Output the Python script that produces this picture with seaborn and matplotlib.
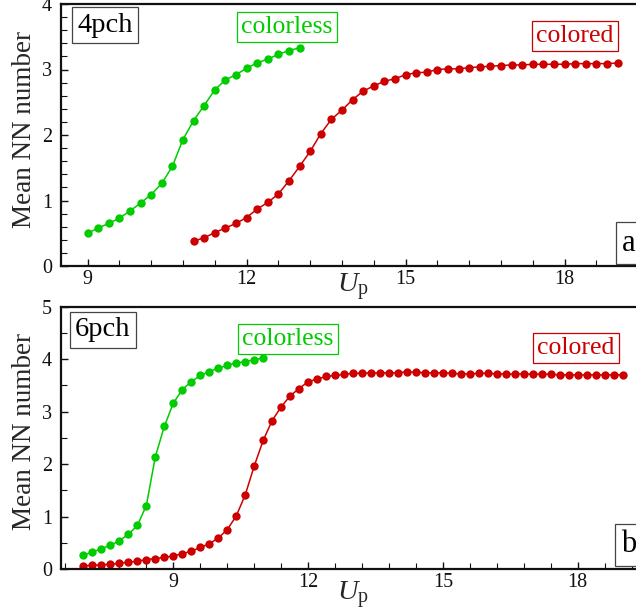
import numpy as np
import pandas as pd
import matplotlib
matplotlib.use("Agg")
import matplotlib.pyplot as plt
import seaborn as sns
from matplotlib.ticker import MultipleLocator

# ---------------- data ----------------
a_colorless_x = [9.0, 9.2, 9.4, 9.6, 9.8, 10.0, 10.2, 10.4, 10.6, 10.8, 11.0,
                 11.2, 11.4, 11.6, 11.8, 12.0, 12.2, 12.4, 12.6, 12.8, 13.0]
a_colorless_y = [0.50, 0.58, 0.65, 0.73, 0.84, 0.96, 1.09, 1.26, 1.52, 1.93, 2.22,
                 2.45, 2.69, 2.84, 2.92, 3.02, 3.10, 3.16, 3.23, 3.29, 3.33]

a_colored_x = [11.0, 11.2, 11.4, 11.6, 11.8, 12.0, 12.2, 12.4, 12.6, 12.8, 13.0,
               13.2, 13.4, 13.6, 13.8, 14.0, 14.2, 14.4, 14.6, 14.8, 15.0,
               15.2, 15.4, 15.6, 15.8, 16.0, 16.2, 16.4, 16.6, 16.8, 17.0,
               17.2, 17.4, 17.6, 17.8, 18.0, 18.2, 18.4, 18.6, 18.8, 19.0]
a_colored_y = [0.38, 0.43, 0.51, 0.58, 0.65, 0.74, 0.87, 0.97, 1.10, 1.30, 1.52,
               1.75, 2.02, 2.24, 2.38, 2.54, 2.67, 2.75, 2.82, 2.86, 2.92,
               2.95, 2.96, 3.00, 3.01, 3.01, 3.03, 3.04, 3.05, 3.06, 3.07,
               3.07, 3.08, 3.08, 3.08, 3.08, 3.09, 3.09, 3.09, 3.09, 3.10]

b_colorless_x = [7.0, 7.2, 7.4, 7.6, 7.8, 8.0, 8.2, 8.4, 8.6, 8.8, 9.0,
                 9.2, 9.4, 9.6, 9.8, 10.0, 10.2, 10.4, 10.6, 10.8, 11.0]
b_colorless_y = [0.27, 0.32, 0.39, 0.45, 0.54, 0.66, 0.83, 1.21, 2.14, 2.72, 3.16,
                 3.42, 3.57, 3.69, 3.76, 3.83, 3.88, 3.93, 3.95, 3.99, 4.02]

b_colored_x = [7.0, 7.2, 7.4, 7.6, 7.8, 8.0, 8.2, 8.4, 8.6, 8.8, 9.0,
               9.2, 9.4, 9.6, 9.8, 10.0, 10.2, 10.4, 10.6, 10.8, 11.0,
               11.2, 11.4, 11.6, 11.8, 12.0, 12.2, 12.4, 12.6, 12.8, 13.0,
               13.2, 13.4, 13.6, 13.8, 14.0, 14.2, 14.4, 14.6, 14.8, 15.0,
               15.2, 15.4, 15.6, 15.8, 16.0, 16.2, 16.4, 16.6, 16.8, 17.0,
               17.2, 17.4, 17.6, 17.8, 18.0, 18.2, 18.4, 18.6, 18.8, 19.0]
b_colored_y = [0.06, 0.07, 0.08, 0.09, 0.11, 0.13, 0.15, 0.18, 0.20, 0.22, 0.25,
               0.29, 0.34, 0.41, 0.48, 0.59, 0.75, 1.01, 1.41, 1.96, 2.45,
               2.83, 3.09, 3.30, 3.44, 3.57, 3.62, 3.67, 3.69, 3.71, 3.73,
               3.73, 3.74, 3.74, 3.74, 3.74, 3.76, 3.75, 3.74, 3.74, 3.74,
               3.73, 3.72, 3.72, 3.73, 3.73, 3.72, 3.72, 3.71, 3.72, 3.71,
               3.72, 3.71, 3.70, 3.70, 3.70, 3.70, 3.70, 3.70, 3.70, 3.70]

x_major_ticks = [9, 12, 15, 18]
a_y_ticks = [0, 1, 2, 3, 4]
b_y_ticks = [0, 1, 2, 3, 4, 5]
panel_names = ["4pch", "6pch"]
panel_letters = ["a", "b"]
series_names = ["colorless", "colored"]

GREEN = "#00cc00"
RED = "#cc0000"
SERIF = ["Liberation Serif", "DejaVu Serif"]

# ---------------- style ----------------
sns.set_theme(style="ticks")
plt.rcParams["font.family"] = SERIF
plt.rcParams["mathtext.fontset"] = "custom"
plt.rcParams["mathtext.rm"] = "Liberation Serif"
plt.rcParams["mathtext.it"] = "Liberation Serif:italic"

W, H = 636, 613
fig = plt.figure(figsize=(W / 100, H / 100), dpi=100)

def fx(px):
    return px / W

def fy(py):
    return 1 - py / H

ax1 = fig.add_axes([fx(61), fy(266), 588.5 / W, 262 / H])
ax2 = fig.add_axes([fx(61), fy(569), 588.5 / W, 262.3 / H])

def draw(ax, xs, ys, color):
    df = pd.DataFrame({"U": xs, "N": ys})
    sns.lineplot(data=df, x="U", y="N", ax=ax, color=color, linewidth=1.1,
                 marker="o", markersize=6, markeredgewidth=0, legend=False)

draw(ax1, a_colorless_x, a_colorless_y, GREEN)
draw(ax1, a_colored_x, a_colored_y, RED)
draw(ax2, b_colorless_x, b_colorless_y, GREEN)
draw(ax2, b_colored_x, b_colored_y, RED)

ax1.set_xlim(8.5, 19.6)
ax1.set_ylim(0, 4)
ax2.set_xlim(6.5, 19.6)
ax2.set_ylim(0, 5)

for ax, yt, ymin in [(ax1, a_y_ticks, 0.2), (ax2, b_y_ticks, 0.5)]:
    ax.set_xticks(x_major_ticks)
    ax.set_yticks(yt)
    ax.yaxis.set_minor_locator(MultipleLocator(ymin))
    ax.tick_params(which="major", direction="in", length=5, width=1,
                   labelsize=14.5, colors="#111111")
    ax.tick_params(axis="y", which="major", pad=6.5)
    ax.tick_params(axis="x", which="major", pad=3)
    ax.tick_params(which="minor", direction="in", length=4, width=0.8,
                   colors="#111111")
    ax.set_xlabel("")
    ax.set_ylabel("")
    for s in ax.spines.values():
        s.set_linewidth(1.6)
        s.set_color("#111111")
        s.set_visible(True)

# minor x ticks sit on the 9 + 0.6k grid
for ax in (ax1, ax2):
    lo, hi = ax.get_xlim()
    ks = np.arange(np.ceil((lo - 9) / 0.6), np.floor((hi - 9) / 0.6) + 1)
    ax.set_xticks(9 + 0.6 * ks, minor=True)

# y labels
for yc in (129, 432):
    fig.text(fx(25), fy(yc), "Mean NN number", rotation=90, ha="center",
             va="center", fontsize=19.5, family=SERIF)

# x labels
for yc in (287, 595):
    fig.text(fx(353), fy(yc), r"$U_\mathregular{p}$", ha="center",
             va="center", fontsize=20.5)

def boxed(x, y, s, color, size, ec=None, pad=0.15):
    fig.text(fx(x), fy(y), s, ha="center", va="center", fontsize=size,
             color=color, family=SERIF,
             bbox=dict(boxstyle=f"square,pad={pad}", fc="white",
                       ec=ec if ec else color, lw=0.9))

boxed(105, 25, panel_names[0], "black", 20.5, ec="#444444", pad=0.2)
boxed(103, 330, panel_names[1], "black", 20.5, ec="#444444", pad=0.2)
boxed(287, 27, series_names[0], GREEN, 18.5)
boxed(288, 339, series_names[0], GREEN, 18.5)
boxed(575, 36, series_names[1], RED, 18.5)
boxed(576, 348, series_names[1], RED, 18.5)
boxed(629, 243, panel_letters[0], "black", 22, ec="#444444", pad=0.2)
boxed(629, 545, panel_letters[1], "black", 22, ec="#444444", pad=0.2)

fig.savefig("out.png", dpi=100)
